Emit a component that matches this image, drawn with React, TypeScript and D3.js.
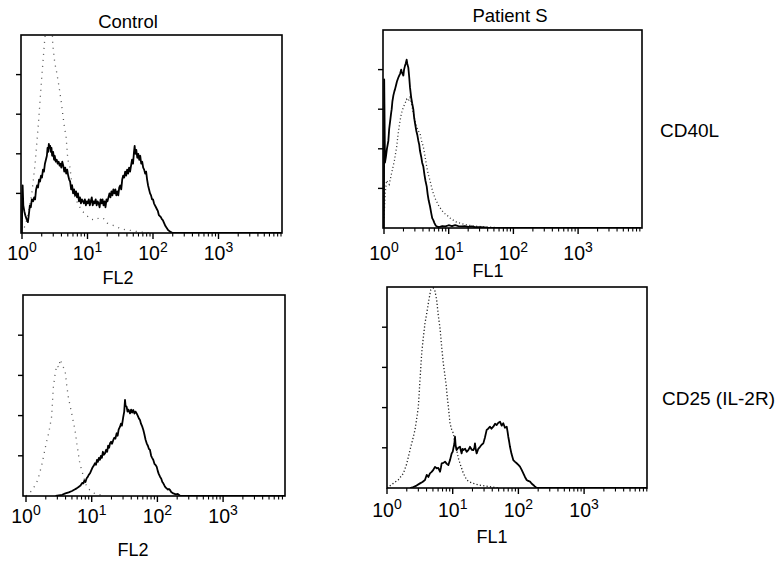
import React from 'react';
import * as d3 from 'd3';

type Pt = [number, number];

// x = log10(fluorescence), y = relative cell count (0..100 = full panel height)
const ctrlCD40L_solid: Pt[] = [[0,0],[0.003,18],[0.01,24],[0.02,14],[0.035,11],[0.05,9],[0.07,7],[0.09,5.5],[0.1,8],[0.12,14],[0.135,13],[0.15,17],[0.17,16],[0.185,18],[0.2,17],[0.215,22],[0.23,24],[0.245,23],[0.26,27],[0.275,26],[0.29,29],[0.305,28],[0.32,32],[0.335,31],[0.35,35],[0.365,37],[0.38,39],[0.39,43],[0.4,41],[0.41,45],[0.42,43],[0.43,44],[0.44,41],[0.45,43],[0.46,39],[0.475,41],[0.49,37],[0.5,39],[0.515,36],[0.53,37],[0.545,35],[0.56,36],[0.575,34],[0.59,35],[0.6,33],[0.615,36],[0.63,34],[0.645,31],[0.66,33],[0.675,30],[0.69,32],[0.705,29],[0.72,27],[0.735,26],[0.75,22],[0.765,24],[0.78,20],[0.795,22],[0.81,19],[0.825,21],[0.84,18],[0.855,20],[0.87,16],[0.885,18],[0.9,15],[0.915,17],[0.93,16],[0.945,15],[0.96,17],[0.975,14],[0.99,16],[1.005,15],[1.02,17],[1.035,14],[1.05,16],[1.065,18],[1.08,14],[1.095,16],[1.11,15],[1.125,17],[1.14,14],[1.155,16],[1.17,15],[1.185,13],[1.2,17],[1.215,15],[1.23,17],[1.245,14],[1.26,16],[1.275,13],[1.29,17],[1.305,16],[1.32,18],[1.335,20],[1.35,18],[1.365,21],[1.38,19],[1.395,22],[1.41,20],[1.425,22],[1.44,19],[1.455,21],[1.47,19],[1.485,23],[1.5,24],[1.515,22],[1.53,27],[1.545,29],[1.56,28],[1.575,31],[1.59,29],[1.605,32],[1.62,30],[1.635,33],[1.65,31],[1.665,34],[1.68,37],[1.695,35],[1.71,41],[1.72,44],[1.73,40],[1.745,42],[1.76,38],[1.775,40],[1.79,37],[1.805,39],[1.82,35],[1.835,36],[1.85,33],[1.865,32],[1.88,30],[1.895,31],[1.91,27],[1.925,24],[1.94,22],[1.955,20],[1.97,19],[1.985,17],[2.0,17],[2.015,15],[2.03,14],[2.045,13],[2.06,12],[2.075,11],[2.09,9],[2.105,8.5],[2.12,8],[2.135,7],[2.15,6.5],[2.17,5],[2.19,3.5],[2.21,2.5],[2.23,1.5],[2.26,0.7],[2.3,0],[3.97,0]];
const ctrlCD40L_dotted: Pt[] = [[0,0],[0.05,4],[0.1,10],[0.15,20],[0.2,35],[0.25,55],[0.3,78],[0.34,95],[0.38,110],[0.42,125],[0.45,112],[0.47,95],[0.5,86],[0.53,81],[0.565,74],[0.6,66],[0.626,59],[0.65,53],[0.672,49],[0.7,37],[0.733,33],[0.763,24],[0.8,19],[0.85,15],[0.9,12],[0.95,10],[1.0,8.5],[1.05,7],[1.11,6.5],[1.17,7.5],[1.24,7.5],[1.3,5],[1.42,3.5],[1.52,2],[1.62,1.5],[1.75,0.8],[1.95,0]];

const patCD40L_solid: Pt[] = [[0,0],[0.003,75],[0.01,50],[0.015,33],[0.03,36],[0.045,40],[0.067,44],[0.08,50],[0.095,54],[0.11,58],[0.119,60],[0.13,64],[0.145,67],[0.16,69],[0.17,70],[0.185,72],[0.2,74],[0.222,76],[0.235,77],[0.25,78],[0.265,80],[0.273,79],[0.285,78],[0.299,77],[0.31,80],[0.325,82],[0.335,83],[0.35,85],[0.36,83],[0.376,81],[0.39,76],[0.402,71],[0.42,66],[0.435,63],[0.453,60],[0.465,56],[0.479,53],[0.5,49],[0.515,47],[0.531,44],[0.545,42],[0.556,39],[0.575,36],[0.59,33],[0.608,31],[0.625,27],[0.64,24],[0.66,21],[0.675,17],[0.69,14],[0.711,11],[0.73,7.5],[0.745,5],[0.762,4],[0.78,2.5],[0.8,1.2],[0.814,0.8],[0.85,0.5],[0.9,1],[0.95,0.8],[1.0,1.4],[1.05,1],[1.1,1.5],[1.15,1],[1.2,0.8],[1.25,1],[1.3,0.6],[1.35,0.8],[1.4,0.5],[1.5,0.4],[1.6,0.2],[1.8,0],[3.97,0]];
const patCD40L_dotted: Pt[] = [[0,5],[0.02,18],[0.04,24],[0.08,22],[0.12,28],[0.16,34],[0.196,41],[0.22,48],[0.247,54],[0.27,58],[0.299,61],[0.325,63],[0.35,65],[0.375,64],[0.402,66],[0.43,62],[0.453,58],[0.48,54],[0.505,51],[0.53,49],[0.556,48],[0.58,44],[0.608,41],[0.635,36],[0.66,31],[0.685,27],[0.711,24],[0.74,20],[0.762,17.5],[0.79,15],[0.814,13.3],[0.85,11],[0.892,9],[0.93,7.5],[0.97,6.6],[1.02,5],[1.07,4],[1.12,3],[1.175,2.4],[1.25,1.8],[1.38,1],[1.5,0.7],[1.69,0.3],[1.9,0]];

const ctrlCD25_solid: Pt[] = [[0.45,0],[0.5,0.3],[0.55,0.6],[0.6,1.3],[0.65,1.8],[0.7,2.5],[0.74,3.2],[0.771,3.8],[0.8,4.5],[0.83,5.2],[0.855,6.5],[0.873,6.3],[0.89,7.8],[0.905,7],[0.923,8.8],[0.94,9.5],[0.955,10.5],[0.974,11.3],[0.99,12.5],[1.01,14],[1.03,15],[1.05,16.3],[1.065,15.5],[1.08,18],[1.095,17],[1.11,19],[1.126,18],[1.14,20],[1.155,19],[1.17,22],[1.185,20.5],[1.202,21.2],[1.22,23],[1.235,22],[1.25,25],[1.265,24],[1.279,26.2],[1.295,27],[1.31,26],[1.329,27.9],[1.345,29],[1.36,28.5],[1.38,31.2],[1.395,30],[1.41,33],[1.431,34.5],[1.445,36],[1.46,35],[1.481,39.5],[1.495,42],[1.507,47.8],[1.515,45],[1.532,44.4],[1.545,42],[1.56,43],[1.583,41.1],[1.6,43],[1.615,41.5],[1.633,42.8],[1.65,41],[1.668,42],[1.684,41.1],[1.7,40],[1.72,38.5],[1.735,37.8],[1.75,36],[1.77,34.5],[1.786,32.8],[1.8,31],[1.82,28],[1.837,26.2],[1.855,25],[1.87,23.5],[1.887,22.9],[1.905,20],[1.92,19],[1.938,17.9],[1.955,16],[1.97,15.5],[1.989,14.6],[2.005,12.5],[2.02,11],[2.04,9.6],[2.06,8.5],[2.075,7],[2.09,6.3],[2.11,5],[2.125,4.2],[2.141,3.8],[2.16,3.2],[2.175,3.5],[2.192,3],[2.21,2],[2.242,1.3],[2.28,0.8],[2.31,1],[2.344,0.1],[2.4,0],[3.96,0]];
const ctrlCD25_dotted: Pt[] = [[0,0],[0.1,3],[0.18,8],[0.24,15.4],[0.3,25],[0.35,32],[0.39,39.5],[0.416,54],[0.44,60],[0.467,65],[0.5,64],[0.52,68],[0.543,66],[0.57,64],[0.594,62.7],[0.62,55],[0.644,49.4],[0.67,45],[0.696,41],[0.72,37],[0.746,32.8],[0.77,27],[0.796,21.2],[0.82,16],[0.848,12.9],[0.88,9],[0.924,4.6],[0.97,3],[1.03,1.5],[1.1,0.8],[1.2,0]];

const patCD25_solid: Pt[] = [[0.35,0],[0.401,0.5],[0.45,1.2],[0.502,2.3],[0.54,3],[0.578,4],[0.604,6.5],[0.63,5.5],[0.654,7.3],[0.68,8],[0.705,9],[0.73,10.5],[0.756,9.8],[0.78,10],[0.807,8.1],[0.82,10],[0.832,12.3],[0.858,12.5],[0.883,13.1],[0.91,12],[0.934,11.4],[0.96,14],[0.984,17.2],[1.0,18],[1.01,19.7],[1.025,22],[1.035,25.5],[1.045,21],[1.06,18.9],[1.085,20],[1.111,20.5],[1.125,18.5],[1.136,17.2],[1.15,19.5],[1.162,18.9],[1.19,19.5],[1.213,18],[1.24,19],[1.263,20.5],[1.29,19],[1.314,18.9],[1.33,20],[1.339,22.2],[1.352,19],[1.365,17.2],[1.39,19.5],[1.416,20.5],[1.44,21.5],[1.466,22.2],[1.49,25],[1.517,28.9],[1.54,29.5],[1.568,30.5],[1.59,29.5],[1.618,30.5],[1.645,32],[1.669,31.3],[1.695,32.5],[1.72,33],[1.745,31],[1.77,32.2],[1.795,30],[1.822,30.5],[1.835,28],[1.846,25.5],[1.86,23],[1.872,20.5],[1.895,17],[1.922,13.9],[1.95,13],[1.974,12.3],[2.0,11.5],[2.024,10.6],[2.05,9],[2.075,7.3],[2.1,5.5],[2.126,4],[2.15,3.5],[2.177,3.2],[2.2,2.2],[2.227,1.5],[2.25,0.8],[2.278,0],[3.97,0]];
const patCD25_dotted: Pt[] = [[0,0],[0.096,2.3],[0.17,4],[0.25,7.3],[0.3,12],[0.35,18.9],[0.39,24],[0.426,28.9],[0.45,34],[0.477,40.4],[0.502,53.7],[0.528,67],[0.55,74],[0.578,81.9],[0.605,87],[0.629,91.9],[0.665,98.5],[0.705,99.5],[0.73,98],[0.756,93.5],[0.78,86],[0.807,79.5],[0.83,71],[0.857,62],[0.878,57],[0.898,52],[0.915,46],[0.934,40.4],[0.959,32.2],[0.985,29],[1.01,27.2],[1.035,22],[1.06,18.9],[1.085,15],[1.11,12.3],[1.16,7.5],[1.213,4],[1.26,3],[1.31,2.3],[1.4,1.5],[1.5,1],[1.6,0.5],[1.7,0]];

const decadeExponents = [0, 1, 2, 3];
const minorMultipliers = [2, 3, 4, 5, 6, 7, 8, 9];
const countTicks = [20, 40, 60, 80];
const columnTitles = ['Control', 'Patient S'];
const rowLabels = ['CD40L', 'CD25 (IL-2R)'];
const axisLabels = ['FL2', 'FL1', 'FL2', 'FL1'];

const FONT = '"Liberation Sans", Arial, Helvetica, sans-serif';

interface PanelCfg {
  id: string; left: number; top: number; right: number; bottom: number;
  x0: number; dec: number; labelOff: number; axisLabel: string; ax: number; ay: number;
  solid: Pt[]; dotted: Pt[]; dash: string; dotColor: string;
}

const panels: PanelCfg[] = [
  { id: 'p1', left: 21, top: 35, right: 282, bottom: 233, x0: 22, dec: 65.5, labelOff: 27, axisLabel: axisLabels[0], ax: 118, ay: 284, solid: ctrlCD40L_solid, dotted: ctrlCD40L_dotted, dash: '1 5', dotColor: '#555' },
  { id: 'p2', left: 383, top: 30, right: 642, bottom: 228, x0: 384, dec: 64.7, labelOff: 32, axisLabel: axisLabels[1], ax: 488, ay: 277, solid: patCD40L_solid, dotted: patCD40L_dotted, dash: '1 2.5', dotColor: '#333' },
  { id: 'p3', left: 23, top: 295, right: 285, bottom: 496, x0: 26, dec: 65.7, labelOff: 27, axisLabel: axisLabels[2], ax: 133, ay: 556, solid: ctrlCD25_solid, dotted: ctrlCD25_dotted, dash: '1 5', dotColor: '#555' },
  { id: 'p4', left: 387, top: 287, right: 647, bottom: 488, x0: 387, dec: 65.7, labelOff: 29, axisLabel: axisLabels[3], ax: 492, ay: 543, solid: patCD25_solid, dotted: patCD25_dotted, dash: '1.2 2.2', dotColor: '#222' },
];

function Histogram({ p }: { p: PanelCfg }) {
  const x = d3.scaleLinear().domain([0, 4]).range([p.x0, p.x0 + 4 * p.dec]);
  const y = d3.scaleLinear().domain([0, 100]).range([p.bottom, p.top]);
  const line = d3.line<Pt>().x(d => x(d[0])).y(d => y(d[1]));
  const minor: number[] = [];
  decadeExponents.forEach(e => minorMultipliers.forEach(m => {
    const v = e + Math.log10(m);
    if (x(v) <= p.right) minor.push(v);
  }));
  return (
    <g>
      <defs>
        <clipPath id={`clip-${p.id}`}>
          <rect x={p.left} y={p.top} width={p.right - p.left} height={p.bottom - p.top} />
        </clipPath>
      </defs>
      <g clipPath={`url(#clip-${p.id})`}>
        <path d={line(p.dotted) || ''} fill="none" stroke={p.dotColor} strokeWidth={1.3} strokeDasharray={p.dash} />
        <path d={line(p.solid) || ''} fill="none" stroke="#000" strokeWidth={1.8} strokeLinejoin="round" />
      </g>
      <rect x={p.left} y={p.top} width={p.right - p.left} height={p.bottom - p.top} fill="none" stroke="#000" strokeWidth={1.6} />
      {countTicks.map(c => (
        <line key={c} x1={p.left - 5} x2={p.left} y1={y(c)} y2={y(c)} stroke="#000" strokeWidth={1.4} />
      ))}
      {decadeExponents.map(e => (
        <line key={e} x1={x(e)} x2={x(e)} y1={p.bottom} y2={p.bottom + 6} stroke="#000" strokeWidth={1.4} />
      ))}
      {minor.map((v, i) => (
        <line key={i} x1={x(v)} x2={x(v)} y1={p.bottom} y2={p.bottom + 3.5} stroke="#000" strokeWidth={1.1} />
      ))}
      {decadeExponents.map(e => (
        <text key={e} x={x(e)} y={p.bottom + p.labelOff} textAnchor="middle" fontFamily={FONT} fontSize={19.5} fill="#000">
          <tspan>10</tspan>
          <tspan dy={-8} fontSize={14}>{e}</tspan>
        </text>
      ))}
      <text x={p.ax} y={p.ay} textAnchor="middle" fontFamily={FONT} fontSize={18} fill="#000">{p.axisLabel}</text>
    </g>
  );
}

export default function App() {
  return (
    <svg width={784} height={562} style={{ position: 'absolute', left: 0, top: 0, background: '#fff' }}>
      <rect width={784} height={562} fill="#fff" />
      {panels.map(p => <Histogram key={p.id} p={p} />)}
      <text x={128} y={28} textAnchor="middle" fontFamily={FONT} fontSize={18.5}>{columnTitles[0]}</text>
      <text x={510} y={22} textAnchor="middle" fontFamily={FONT} fontSize={18.5}>{columnTitles[1]}</text>
      <text x={660} y={137} fontFamily={FONT} fontSize={19}>{rowLabels[0]}</text>
      <text x={662} y={405} fontFamily={FONT} fontSize={19}>{rowLabels[1]}</text>
    </svg>
  );
}
